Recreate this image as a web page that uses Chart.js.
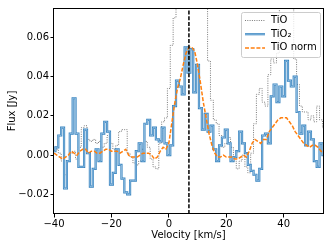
<!DOCTYPE html>
<html>
<head>
<meta charset="utf-8">
<script src="https://cdn.jsdelivr.net/npm/chart.js@4.4.1/dist/chart.umd.min.js"></script>
<style>
html,body{margin:0;padding:0;background:#fff;}
#wrap{width:332px;height:249px;}
</style>
</head>
<body>
<div id="wrap"><canvas id="c" width="332" height="249"></canvas></div>
<script>
// ---- Data ----
const vel = [-40,-39,-38,-37,-36,-35,-34,-33,-32,-31,-30,-29,-28,-27,-26,-25,-24,-23,-22,-21,
  -20,-19,-18,-17,-16,-15,-14,-13,-12,-11,-10,-9,-8,-7,-6,-5,-4,-3,-2,-1,
  0,1,2,3,4,5,6,7,8,9,10,11,12,13,14,15,16,17,18,19,
  20,21,22,23,24,25,26,27,28,29,30,31,32,33,34,35,36,37,38,39,
  40,41,42,43,44,45,46,47,48,49,50,51,52,53,54];

const tio = [0.002,0.003,0.001,-0.003,-0.010,-0.003,0.001,0.002,-0.002,0.004,
  0.014,0.015,0.008,0.007,0.008,0.006,0.007,0.004,0.006,0.010,
  0.006,0.003,0.005,0.012,0.013,0.013,0.001,-0.001,-0.004,-0.005,
  -0.003,0.003,0.007,0.004,-0.002,-0.006,-0.007,0.006,0.017,0.019,
  0.034,0.056,0.070,0.095,0.110,0.120,0.130,0.120,0.110,0.120,
  0.100,0.090,0.085,0.080,0.048,0.028,0.018,0.016,0.010,0.004,
  0.006,0.009,0.004,-0.003,-0.007,-0.003,0.000,-0.006,-0.009,0.001,
  0.016,0.031,0.034,0.027,0.025,0.041,0.049,0.047,0.052,0.090,
  0.100,0.110,0.095,0.085,0.049,0.036,0.025,0.022,0.022,0.018,
  0.020,0.017,0.025,0.018,0.014];

const tio2 = [0.002,0.004,0.010,0.014,-0.017,-0.003,0.011,0.029,0.011,-0.006,
  -0.006,0.013,0.001,-0.016,-0.007,0.003,-0.003,0.011,0.017,0.012,
  -0.015,-0.009,0.003,-0.005,-0.012,-0.019,-0.020,-0.013,-0.013,0.002,
  0.006,-0.003,0.016,0.018,0.010,0.014,0.008,0.007,0.014,0.006,
  0.000,0.005,0.025,0.038,0.035,0.031,0.055,0.042,0.054,0.032,
  0.046,0.024,0.013,0.021,0.012,0.015,0.003,-0.003,0.005,0.009,
  0.013,0.006,-0.003,-0.001,0.002,0.012,0.006,0.001,-0.005,-0.008,
  -0.010,-0.013,-0.007,0.010,0.011,0.006,0.030,0.036,0.027,0.035,
  0.030,0.048,0.038,0.035,0.040,0.022,0.011,0.015,0.005,0.012,
  0.008,-0.003,-0.006,0.006,0.000];

const tioNorm = [0.001,0.000,-0.001,-0.002,-0.001,0.000,0.002,0.001,0.000,0.002,
  0.003,0.003,0.001,0.002,0.002,0.001,0.001,0.002,0.003,0.003,
  0.002,0.002,0.002,0.001,0.002,0.003,0.000,-0.001,-0.001,-0.001,
  0.000,0.001,0.001,0.001,0.000,-0.002,-0.001,0.002,0.004,0.003,
  0.006,0.016,0.026,0.034,0.039,0.046,0.052,0.055,0.055,0.053,
  0.046,0.037,0.027,0.019,0.011,0.005,0.001,-0.001,-0.001,0.000,
  -0.001,-0.001,-0.001,-0.002,-0.002,-0.001,0.000,-0.001,0.002,0.006,
  0.008,0.007,0.006,0.008,0.008,0.012,0.014,0.016,0.018,0.019,
  0.019,0.019,0.017,0.015,0.012,0.010,0.008,0.006,0.005,0.004,
  0.005,0.005,0.004,0.002,0.001];

const vLine = 7;                       // km/s, dashed marker
const xTicks = [-40,-20,0,20,40];
const yTicks = [-0.02,0.00,0.02,0.04,0.06];
const xRange = [-40, 53.7];
const yRange = [-0.03, 0.075];

// ---- Helpers ----
const pts = arr => vel.map((v,i)=>({x:v, y:arr[i]}));
const minus = s => s.replace('-', '\u2212');

Chart.defaults.font.family = "'DejaVu Sans', sans-serif";
Chart.defaults.font.size = 10;
Chart.defaults.color = '#000';

// ---- Box around the axes ----
const frame = {
  id:'frame',
  afterDatasetsDraw(chart){
    const {ctx, chartArea:a} = chart;
    ctx.save();
    ctx.strokeStyle = '#000'; ctx.lineWidth = 1;
    ctx.strokeRect(Math.round(a.left)-0.5, Math.round(a.top)+0.5,
                   Math.round(a.width)+1, Math.round(a.height)-1);
    ctx.restore();
  }
};

// ---- Legend inside the plot (upper right) ----
const legendItems = [
  {text:'TiO', ds:0},
  {text:'TiO\u2082', ds:2},
  {text:'TiO norm', ds:3}
];
const boxLegend = {
  id:'boxLegend',
  afterDraw(chart){
    const {ctx, chartArea:a} = chart;
    const w = 79, h = 45, x0 = a.right - 3 - w, y0 = a.top + 4;
    ctx.save();
    ctx.fillStyle = 'rgba(255,255,255,0.8)';
    ctx.strokeStyle = '#cccccc'; ctx.lineWidth = 1;
    ctx.beginPath(); ctx.roundRect(x0+0.5, y0+0.5, w, h, 2); ctx.fill(); ctx.stroke();
    legendItems.forEach((it,i)=>{
      const y = y0 + 8.5 + i*13.7;
      const ds = chart.data.datasets[it.ds];
      const draw = d=>{
        ctx.strokeStyle = d.borderColor; ctx.lineWidth = d.borderWidth;
        ctx.setLineDash(d.borderDash || []);
        ctx.beginPath(); ctx.moveTo(x0+4, y); ctx.lineTo(x0+24, y); ctx.stroke();
      };
      draw(ds);
      if (it.ds===2) draw(chart.data.datasets[1]);
      ctx.setLineDash([]);
      ctx.fillStyle = '#000';
      ctx.font = "10px 'DejaVu Sans', sans-serif";
      ctx.textBaseline = 'middle';
      ctx.fillText(it.text, x0+30, y);
    });
    ctx.restore();
  }
};

// ---- Chart ----
new Chart(document.getElementById('c'), {
  type:'line',
  data:{
    datasets:[
      { label:'TiO', data:pts(tio), stepped:'middle', borderColor:'#7a7a7a',
        borderWidth:1, borderDash:[1,1.3], pointRadius:0, clip:0, order:5 },
      { label:'TiO2 core', data:pts(tio2), stepped:'middle', borderColor:'#9fc6e6',
        borderWidth:0.8, pointRadius:0, clip:0, order:3 },
      { label:'TiO2', data:pts(tio2), stepped:'middle', borderColor:'#3683bf',
        borderWidth:2.2, pointRadius:0, clip:0, order:4 },
      { label:'TiO norm', data:pts(tioNorm), borderColor:'#ff7f0e',
        borderWidth:1.5, borderDash:[4,1.7], pointRadius:0, tension:0, clip:0, order:2 },
      { label:'v0', data:[{x:vLine,y:yRange[0]},{x:vLine,y:yRange[1]}], borderColor:'#000',
        borderWidth:1.5, borderDash:[4,1.7], pointRadius:0, clip:0, order:1 }
    ]
  },
  options:{
    responsive:false,
    animation:false,
    events:[],
    layout:{ autoPadding:false, padding:{left:0, top:8, right:9, bottom:0} },
    plugins:{ legend:{display:false}, tooltip:{enabled:false} },
    scales:{
      x:{
        type:'linear', min:xRange[0], max:xRange[1],
        afterBuildTicks: s=>{ s.ticks = xTicks.map(v=>({value:v})); },
        afterFit: s=>{ s.height = 35; },
        grid:{ drawOnChartArea:false, drawTicks:true, tickLength:3.5, color:'#000', lineWidth:1 },
        border:{ display:false },
        ticks:{ padding:1, maxRotation:0, autoSkip:false, callback: v=>minus(String(v)) },
        title:{ display:true, text:'Velocity [km/s]', padding:{top:0, bottom:8} }
      },
      y:{
        type:'linear', min:yRange[0], max:yRange[1],
        afterBuildTicks: s=>{ s.ticks = yTicks.map(v=>({value:v})); },
        afterFit: s=>{ s.width = 54; },
        grid:{ drawOnChartArea:false, drawTicks:true, tickLength:3.5, color:'#000', lineWidth:1 },
        border:{ display:false },
        ticks:{ padding:1.5, autoSkip:false, callback: v=>minus(v.toFixed(2)) },
        title:{ display:true, text:'Flux [Jy]', padding:{top:6, bottom:0} }
      }
    }
  },
  plugins:[frame, boxLegend]
});
</script>
</body>
</html>
